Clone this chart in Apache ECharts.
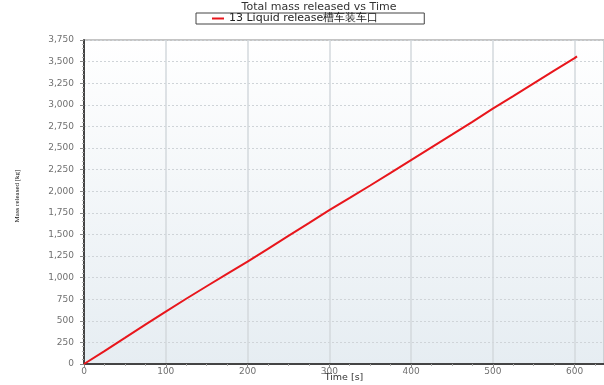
<!DOCTYPE html>
<html>
<head>
<meta charset="utf-8">
<script src="https://cdn.jsdelivr.net/npm/echarts@6/dist/echarts.min.js"></script>
<style>
  html, body { margin: 0; padding: 0; background: #ffffff; }
  #chart { width: 604px; height: 385px; }
</style>
</head>
<body>
<div id="chart"></div>
<script>
// Total mass released over time for the tanker loading-point liquid release
const chartTitle = 'Total mass released vs Time';
const seriesName = '13 Liquid release槽车装车口';
const timeSeconds = [0, 25, 50, 75, 100, 125, 150, 175, 200, 225, 250, 275, 300,
  325, 350, 375, 400, 425, 450, 475, 500, 525, 550, 575, 600, 603];
const massReleased = [0, 150, 302, 455, 607, 755, 900, 1042, 1184, 1333, 1482, 1630, 1780,
  1922, 2066, 2212, 2360, 2508, 2655, 2803, 2955, 3100, 3248, 3395, 3540, 3560];
const xTickStep = 100;
const yTickStep = 250;
const yMax = 3750;

const points = timeSeconds.map((t, i) => [t, massReleased[i]]);

const chart = echarts.init(document.getElementById('chart'), null, { renderer: 'canvas' });
const labelFont = { color: '#707070', fontSize: 9, fontFamily: 'DejaVu Sans' };

chart.setOption({
  animation: false,
  backgroundColor: '#ffffff',
  title: {
    text: chartTitle,
    left: 319,
    textAlign: 'center',
    top: 2,
    padding: 0,
    textStyle: { fontSize: 11, fontWeight: 'normal', color: '#333', fontFamily: 'DejaVu Sans' }
  },
  legend: {
    left: 196,
    top: 13,
    padding: [0, 46, 0, 16],
    borderColor: '#444',
    borderWidth: 1,
    borderRadius: 0,
    itemWidth: 12,
    itemHeight: 2,
    itemGap: 5,
    icon: 'rect',
    textStyle: { fontSize: 11, color: '#222', fontFamily: 'DejaVu Sans' },
    data: [seriesName]
  },
  grid: {
    left: 84,
    top: 40,
    right: 0,
    bottom: 21,
    outerBoundsMode: 'none',
    containLabel: false,
    show: true,
    borderColor: '#8a8a8a',
    borderWidth: 1,
    backgroundColor: new echarts.graphic.LinearGradient(0, 0, 0, 1, [
      { offset: 0, color: '#ffffff' },
      { offset: 1, color: '#e6edf2' }
    ])
  },
  graphic: [{
    type: 'text',
    x: 17,
    y: 196,
    rotation: Math.PI / 2,
    style: {
      text: 'Mass released [kg]',
      fontSize: 7,
      fontFamily: 'Liberation Sans Narrow',
      fill: '#111',
      textAlign: 'center',
      textVerticalAlign: 'middle'
    }
  }],
  xAxis: {
    type: 'value',
    min: 0,
    max: 636,
    interval: xTickStep,
    name: 'Time [s]',
    nameLocation: 'middle',
    nameGap: 9,
    nameMoveOverlap: false,
    nameTextStyle: { fontSize: 9.5, color: '#333', fontFamily: 'DejaVu Sans' },
    axisLine: { show: true, lineStyle: { color: '#444', width: 2 } },
    axisTick: { show: true, length: 3, lineStyle: { color: '#888' } },
    minorTick: { show: true, splitNumber: 4, length: 2, lineStyle: { color: '#aaa' } },
    axisLabel: Object.assign({ margin: 3, showMaxLabel: false }, labelFont),
    splitLine: { show: true, lineStyle: { color: '#d3d8dd', width: 1.5, type: 'solid' } }
  },
  yAxis: {
    type: 'value',
    min: 0,
    max: yMax,
    interval: yTickStep,
    axisLine: { show: true, lineStyle: { color: '#444', width: 2 } },
    axisTick: { show: true, length: 4, lineStyle: { color: '#888' } },
    minorTick: { show: true, splitNumber: 5, length: 2, lineStyle: { color: '#aaa' } },
    axisLabel: Object.assign({
      margin: 10,
      formatter: v => v.toLocaleString('en-US')
    }, labelFont),
    splitLine: { show: true, lineStyle: { color: '#cfd4d8', width: 1, type: [2, 2] } }
  },
  series: [{
    name: seriesName,
    type: 'line',
    data: points,
    showSymbol: false,
    symbol: 'none',
    lineStyle: { color: '#e8161c', width: 2 },
    itemStyle: { color: '#e8161c' }
  }]
});
</script>
</body>
</html>
